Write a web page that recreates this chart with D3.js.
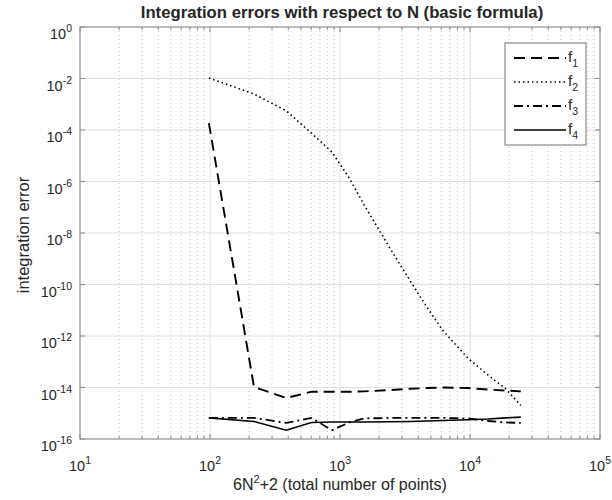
<!DOCTYPE html>
<meta charset="utf-8">
<script src="https://d3js.org/d3.v7.min.js"></script>
<style>
  body { margin: 0; background: #fff; }
  text { font-family: "Liberation Sans", Arial, sans-serif; fill: #262626; }
</style>
<div id="my_dataviz"></div>
<script>

  // N values of the quadrature, x = 6N^2+2
  var nValues = [4, 6, 8, 10, 12, 14, 16, 20, 24, 28, 32, 40, 48, 56, 64];
  var f1 = [1.86e-4, 1.05e-14, 3.9e-15, 6.8e-15, 6.8e-15, 6.8e-15, 7.1e-15, 7.9e-15,
            8.9e-15, 9.5e-15, 1.0e-14, 9.5e-15, 8.3e-15, 7.6e-15, 7.1e-15];
  var f2 = [1.05e-2, 2.5e-3, 5.6e-4, 7.6e-5, 1.4e-5, 1.35e-6, 1.2e-7, 2.75e-9,
            1.4e-10, 1.23e-11, 1.7e-12, 1.4e-13, 3.0e-14, 8.9e-15, 2.0e-15];
  var f3 = [6.6e-16, 6.6e-16, 4.2e-16, 6.6e-16, 2.2e-16, 4.4e-16, 6.3e-16, 6.6e-16,
            6.6e-16, 6.6e-16, 6.6e-16, 6.3e-16, 5.0e-16, 4.4e-16, 4.2e-16];
  var f4 = [6.6e-16, 4.8e-16, 2.2e-16, 4.4e-16, 4.6e-16, 4.6e-16, 4.6e-16, 4.7e-16,
            4.8e-16, 5.0e-16, 5.2e-16, 5.6e-16, 6.0e-16, 6.6e-16, 7.1e-16];
  var seriesNames = ["1", "2", "3", "4"];
  var xTickExp = [1, 2, 3, 4, 5];
  var yTickExp = [0, -2, -4, -6, -8, -10, -12, -14, -16];

  var margin = { top: 27, right: 12, bottom: 61, left: 80 },
    width = 612 - margin.left - margin.right,
    height = 500 - margin.top - margin.bottom;

  var root = d3.select("#my_dataviz").append("svg")
    .attr("width", 612).attr("height", 500);
  var svg = root.append("g")
    .attr("transform", "translate(" + margin.left + "," + margin.top + ")");

  var x = d3.scaleLog().domain([1e1, 1e5]).range([0, width]);
  var y = d3.scaleLog().domain([1e-16, 1e0]).range([height, 0]);

  // minor x positions
  var xMinor = [];
  for (var e = 1; e < 5; e++) {
    for (var k = 2; k <= 9; k++) xMinor.push(k * Math.pow(10, e));
  }

  // grid
  svg.selectAll(".xminor").data(xMinor).enter().append("line")
    .attr("x1", d => x(d)).attr("x2", d => x(d))
    .attr("y1", 0).attr("y2", height)
    .attr("stroke", "#c8c8c8").attr("stroke-width", 1)
    .attr("stroke-dasharray", "1,3");
  svg.selectAll(".xmajor").data(xTickExp).enter().append("line")
    .attr("x1", d => x(Math.pow(10, d))).attr("x2", d => x(Math.pow(10, d)))
    .attr("y1", 0).attr("y2", height)
    .attr("stroke", "#e0e0e0").attr("stroke-width", 1);
  svg.selectAll(".ymajor").data(yTickExp).enter().append("line")
    .attr("y1", d => y(Math.pow(10, d))).attr("y2", d => y(Math.pow(10, d)))
    .attr("x1", 0).attr("x2", width)
    .attr("stroke", "#e0e0e0").attr("stroke-width", 1);

  // lines
  var styles = [
    { data: f1, dash: "11,6", w: 1.9 },
    { data: f2, dash: "1.5,3", w: 1.6 },
    { data: f3, dash: "9,4,2,4", w: 1.8 },
    { data: f4, dash: null, w: 1.6 }
  ];
  var line = d3.line()
    .x(function (d, i) { return x(6 * nValues[i] * nValues[i] + 2); })
    .y(function (d) { return y(d); });

  styles.forEach(function (s) {
    svg.append("path")
      .datum(s.data)
      .attr("fill", "none")
      .attr("stroke", "#000")
      .attr("stroke-width", s.w)
      .attr("stroke-dasharray", s.dash)
      .attr("d", line);
  });

  // frame and ticks
  var axisColor = "#8a8a8a";
  svg.append("rect").attr("width", width).attr("height", height)
    .attr("fill", "none").attr("stroke", axisColor).attr("stroke-width", 1);

  var tickG = svg.append("g").attr("stroke", axisColor).attr("stroke-width", 1);
  xTickExp.forEach(function (d) {
    var px = x(Math.pow(10, d));
    tickG.append("line").attr("x1", px).attr("x2", px).attr("y1", height).attr("y2", height - 5);
    tickG.append("line").attr("x1", px).attr("x2", px).attr("y1", 0).attr("y2", 5);
  });
  xMinor.forEach(function (d) {
    var px = x(d);
    tickG.append("line").attr("x1", px).attr("x2", px).attr("y1", height).attr("y2", height - 3);
    tickG.append("line").attr("x1", px).attr("x2", px).attr("y1", 0).attr("y2", 3);
  });
  yTickExp.forEach(function (d) {
    var py = y(Math.pow(10, d));
    tickG.append("line").attr("x1", 0).attr("x2", 5).attr("y1", py).attr("y2", py);
    tickG.append("line").attr("x1", width).attr("x2", width - 5).attr("y1", py).attr("y2", py);
  });

  // tick labels
  svg.selectAll(".xlab").data(xTickExp).enter().append("text")
    .attr("x", d => x(Math.pow(10, d)))
    .attr("y", height + 32)
    .attr("text-anchor", "middle")
    .attr("font-size", 14.5)
    .each(function (d) {
      var t = d3.select(this);
      t.append("tspan").text("10");
      t.append("tspan").attr("dy", -7).attr("font-size", 10.5).text(d);
    });

  svg.selectAll(".ylab").data(yTickExp).enter().append("text")
    .attr("x", -8)
    .attr("y", d => y(Math.pow(10, d)) + 12)
    .attr("text-anchor", "end")
    .attr("font-size", 14.5)
    .each(function (d) {
      var t = d3.select(this);
      t.append("tspan").text("10");
      t.append("tspan").attr("dy", -7).attr("font-size", 10.5).text(d);
    });

  // axis titles
  svg.append("text")
    .attr("x", width / 2).attr("y", height + 51)
    .attr("text-anchor", "middle").attr("font-size", 16)
    .each(function () {
      var t = d3.select(this);
      t.append("tspan").text("6N");
      t.append("tspan").attr("dy", -7).attr("font-size", 11).text("2");
      t.append("tspan").attr("dy", 7).text("+2 (total number of points)");
    });

  svg.append("text")
    .attr("transform", "translate(-51," + (height / 2 + 2) + ") rotate(-90)")
    .attr("text-anchor", "middle").attr("font-size", 16.5)
    .text("integration error");

  root.append("text")
    .attr("x", margin.left + width / 2 + 2).attr("y", 18)
    .attr("text-anchor", "middle").attr("font-size", 16.7).attr("font-weight", "bold")
    .attr("fill", "#000")
    .text("Integration errors with respect to N (basic formula)");

  // legend
  var lg = svg.append("g").attr("transform", "translate(425,16)");
  lg.append("rect").attr("width", 81).attr("height", 102)
    .attr("fill", "#fff").attr("stroke", axisColor).attr("stroke-width", 1.2);
  seriesNames.forEach(function (name, i) {
    var ly = 15 + i * 24;
    lg.append("line")
      .attr("x1", 9).attr("x2", 61).attr("y1", ly).attr("y2", ly)
      .attr("stroke", "#000").attr("stroke-width", styles[i].w)
      .attr("stroke-dasharray", styles[i].dash);
    var t = lg.append("text").attr("x", 63).attr("y", ly + 4).attr("font-size", 15);
    t.append("tspan").text("f");
    t.append("tspan").attr("dy", 5).attr("font-size", 10.5).text(name);
  });

</script>
